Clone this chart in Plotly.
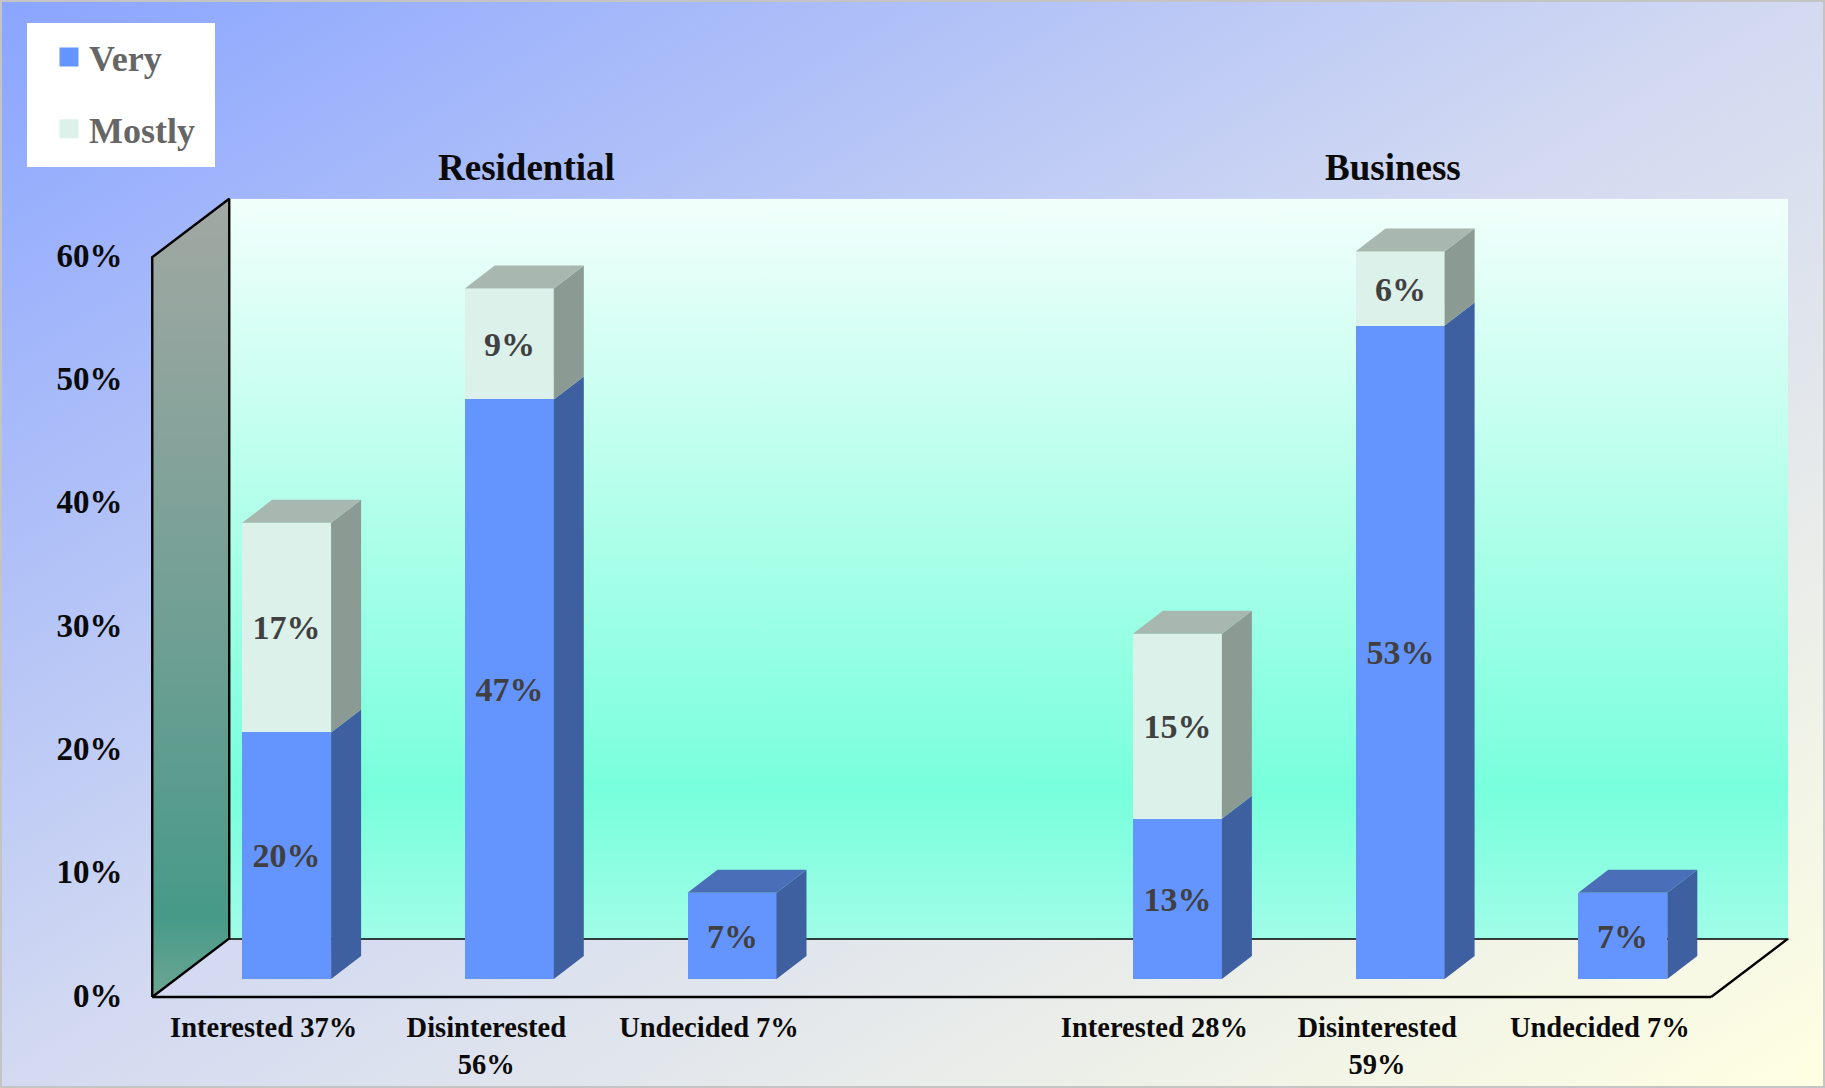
import base64
import plotly.graph_objects as go

# ---- data ----
categories = ["Interested 37%", "Disinterested<br>56%", "Undecided 7%", "",
              "Interested 28%", "Disinterested<br>59%", "Undecided 7%"]
positions = [0, 1, 2, 3, 4, 5, 6]
very = [20, 47, 7, None, 13, 53, 7]
mostly = [17, 9, None, None, 15, 6, None]
y_ticks = [0, 10, 20, 30, 40, 50, 60]
y_labels = ["0%", "10%", "20%", "30%", "40%", "50%", "60%"]
panel_titles = ["Residential", "Business"]

# ---- geometry (pixels of the page) ----
W, H = 1825, 1088
PX_PER_CAT, PX_PER_PCT = 222.7, 12.33
X0_PX, Y0_PX = 263.6, 997.0          # category 0 / value 0 on the front plane
L, R, T, B = 148, 1791, 196, 1001     # plot box
def cat(px): return (px - X0_PX) / PX_PER_CAT
def pct(py): return (Y0_PX - py) / PX_PER_PCT
def pap_x(px): return (px - L) / (R - L)
def pap_y(py): return (B - py) / (B - T)

WALL_DX, WALL_DY = 77 / PX_PER_CAT, 58.5 / PX_PER_PCT
BAR_OX, BAR_OY = 23 / PX_PER_CAT, 18 / PX_PER_PCT
BAR_W = 89 / PX_PER_CAT
BAR_DX, BAR_DY = 30 / PX_PER_CAT, 23 / PX_PER_PCT
FRONT_L, FRONT_R = -0.5, 6.5
TOP = 60

BLUE, BLUE_SIDE, BLUE_TOP = "#6495FF", "#3E60A1", "#4A6FB8"
PALE, PALE_SIDE, PALE_TOP = "#DCF1EA", "#8B9A92", "#A8B8B0"
FONT = "Liberation Serif"

def svg_gradient(x2, y2, stops):
    st = "".join(f'<stop offset="{o}" stop-color="{c}"/>' for o, c in stops)
    svg = ('<svg xmlns="http://www.w3.org/2000/svg" width="100" height="100" preserveAspectRatio="none">'
           f'<defs><linearGradient id="g" x1="0" y1="0" x2="{x2}" y2="{y2}">{st}</linearGradient></defs>'
           '<rect width="100" height="100" fill="url(#g)"/></svg>')
    return "data:image/svg+xml;base64," + base64.b64encode(svg.encode()).decode()

fig = go.Figure()

# left wall
wx = [FRONT_L, FRONT_L, FRONT_L + WALL_DX, FRONT_L + WALL_DX, FRONT_L]
wy = [0, TOP, TOP + WALL_DY, WALL_DY, 0]
fig.add_trace(go.Scatter(x=wx, y=wy, mode="lines", fill="toself", showlegend=False, hoverinfo="skip",
                         line=dict(color="black", width=2.4),
                         fillgradient=dict(type="vertical",
                                           colorscale=[[0, "#6DA593"], [0.1, "#479A88"], [0.45, "#6F9F94"], [1, "#A2A8A3"]])))

# front faces
def offs(vals): return [i + BAR_OX for i in positions]
very_base = [BAR_OY] * len(positions)
mostly_base = [BAR_OY + (v or 0) for v in very]
label_font = dict(family=FONT, size=34, color="#404040", weight="bold")
fig.add_trace(go.Bar(x=offs(very), y=very, base=very_base, width=BAR_W, name="Very", showlegend=False,
                     marker=dict(color=BLUE, line=dict(width=0)),
                     text=[f"{v}%" if v else "" for v in very], textposition="inside",
                     insidetextanchor="middle", textangle=0, constraintext="none",
                     textfont=label_font))
fig.add_trace(go.Bar(x=offs(mostly), y=mostly, base=mostly_base, width=BAR_W, name="Mostly", showlegend=False,
                     marker=dict(color=PALE, line=dict(width=0)),
                     text=[f"{v}%" if v else "" for v in mostly], textposition="inside",
                     insidetextanchor="middle", textangle=0, constraintext="none",
                     textfont=label_font))

# side and top faces, derived from the same values
def poly(xs, ys, color):
    fig.add_trace(go.Scatter(x=xs, y=ys, mode="lines", fill="toself", fillcolor=color,
                             line=dict(width=0, color=color), showlegend=False, hoverinfo="skip"))

for i, v, m in zip(positions, very, mostly):
    if v is None:
        continue
    xr = i + BAR_OX + BAR_W / 2
    xl = i + BAR_OX - BAR_W / 2
    b = BAR_OY
    poly([xr, xr + BAR_DX, xr + BAR_DX, xr], [b, b + BAR_DY, b + v + BAR_DY, b + v], BLUE_SIDE)
    top = b + v
    top_col = BLUE_TOP
    if m:
        poly([xr, xr + BAR_DX, xr + BAR_DX, xr], [b + v, b + v + BAR_DY, b + v + m + BAR_DY, b + v + m], PALE_SIDE)
        top = b + v + m
        top_col = PALE_TOP
    poly([xl, xl + BAR_DX, xr + BAR_DX, xr], [top, top + BAR_DY, top + BAR_DY, top], top_col)

# legend entries
for name, col in (("Very", BLUE), ("Mostly", PALE)):
    fig.add_trace(go.Scatter(x=[None], y=[None], mode="markers", name=name, legendgroup=name,
                             marker=dict(symbol="square", size=16, color=col, line=dict(color=col, width=3))))

shapes = [
    # floor outline, behind the bars
    dict(type="line", xref="x", yref="y", x0=FRONT_L, x1=FRONT_R, y0=0, y1=0, line=dict(color="black", width=2.4), layer="below"),
    dict(type="line", xref="x", yref="y", x0=FRONT_L + WALL_DX, x1=FRONT_R + WALL_DX, y0=WALL_DY, y1=WALL_DY, line=dict(color="black", width=2.4), layer="below"),
    dict(type="line", xref="x", yref="y", x0=FRONT_R, x1=FRONT_R + WALL_DX, y0=0, y1=WALL_DY, line=dict(color="black", width=2.4), layer="below"),
    # page edge
    dict(type="rect", xref="paper", yref="paper", x0=pap_x(1), x1=pap_x(W - 1), y0=pap_y(H - 1), y1=pap_y(1),
         line=dict(color="#C4C4C4", width=2), layer="above"),
    # white card under the legend
    dict(type="rect", xref="paper", yref="paper", x0=pap_x(27), x1=pap_x(215), y0=pap_y(167), y1=pap_y(23),
         fillcolor="white", line=dict(width=0), layer="above"),
]

images = [
    dict(source=svg_gradient(1, 1, [(0, "#8AA5FF"), (0.5, "#D3DAF1"), (1, "#FFFFE2")]),
         xref="paper", yref="paper", x=pap_x(0), y=pap_y(0), sizex=W / (R - L), sizey=H / (B - T),
         xanchor="left", yanchor="top", sizing="stretch", layer="below"),
    dict(source=svg_gradient(0, 1, [(0, "#F2FFFB"), (0.8, "#78FFDC"), (1, "#A0FDE8")]),
         xref="x", yref="y", x=FRONT_L + WALL_DX, y=TOP + WALL_DY, sizex=FRONT_R - FRONT_L, sizey=TOP,
         xanchor="left", yanchor="top", sizing="stretch", layer="below"),
]

annotations = [
    dict(text=panel_titles[0], xref="paper", yref="paper", x=pap_x(526), y=pap_y(168), showarrow=False,
         xanchor="center", yanchor="middle", font=dict(family=FONT, size=37, color="#0A0A0A", weight="bold")),
    dict(text=panel_titles[1], xref="paper", yref="paper", x=pap_x(1393), y=pap_y(168), showarrow=False,
         xanchor="center", yanchor="middle", font=dict(family=FONT, size=37, color="#0A0A0A", weight="bold")),
]

fig.update_layout(
    width=W, height=H, margin=dict(l=L, r=W - R, t=T, b=H - B, pad=0, autoexpand=False),
    barmode="overlay", bargap=0,
    paper_bgcolor="rgba(0,0,0,0)", plot_bgcolor="rgba(0,0,0,0)",
    shapes=shapes, images=images, annotations=annotations,
    showlegend=True,
    legend=dict(x=pap_x(27), y=pap_y(23), xanchor="left", yanchor="top", bgcolor="white",
                bordercolor="white", borderwidth=4,
                font=dict(family=FONT, size=36, color="#666666", weight="bold"),
                tracegroupgap=22, itemsizing="trace", itemclick=False, itemdoubleclick=False,
                indentation=18),
    xaxis=dict(range=[cat(L), cat(R)], tickmode="array", tickvals=positions, ticktext=categories,
               showgrid=False, zeroline=False, showline=False, ticks="outside", ticklen=1,
               tickcolor="rgba(0,0,0,0)", tickangle=0,
               tickfont=dict(family=FONT, size=28.5, color="#0A0A0A", weight="bold")),
    yaxis=dict(range=[pct(B), pct(T)], tickmode="array", tickvals=y_ticks, ticktext=y_labels,
               showgrid=False, zeroline=False, showline=False, ticks="outside", ticklen=18,
               tickcolor="rgba(0,0,0,0)", ticklabelshift=-2,
               tickfont=dict(family=FONT, size=33, color="#0A0A0A", weight="bold")),
)

fig.write_html("out.html", config=dict(displayModeBar=False),
               post_script="document.body.style.margin='0';document.body.style.overflow='hidden';")
